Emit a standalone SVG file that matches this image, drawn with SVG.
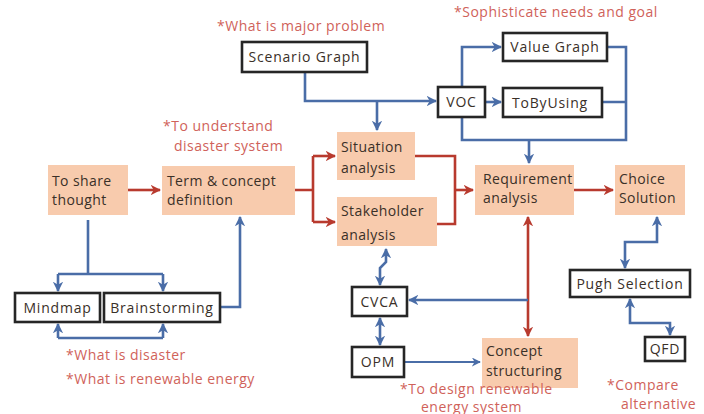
<svg xmlns="http://www.w3.org/2000/svg" width="704" height="414" viewBox="0 0 704 414">
  <defs>
    <style>
      .step { fill: #F8CBAD; }
      .tool { fill: #ffffff; stroke: #262626; stroke-width: 2.6; }
      .lbl { font-family: "Open Sans", Lato, sans-serif; font-size: 14px; letter-spacing: 0.4px; fill: #3a3028; }
      .mid { text-anchor: middle; letter-spacing: 0.8px; }
      .note { font-family: "Open Sans", Lato, sans-serif; font-size: 14px; letter-spacing: 0.5px; fill: #D0625A; }
      .red { fill: none; stroke: #B83A2E; stroke-width: 2.6; }
      .blue { fill: none; stroke: #4A6DA7; stroke-width: 2.6; }
      .thin { fill: none; stroke: #4A6DA7; stroke-width: 1.8; }
    </style>
    <marker id="ar" viewBox="0 0 10 10" refX="9" refY="5" markerWidth="4" markerHeight="4" orient="auto-start-reverse">
      <path d="M0,0 L10,5 L0,10 L3,5 z" fill="#B83A2E"/>
    </marker>
    <marker id="ab" viewBox="0 0 10 10" refX="9" refY="5" markerWidth="4" markerHeight="4" orient="auto-start-reverse">
      <path d="M0,0 L10,5 L0,10 L3,5 z" fill="#4A6DA7"/>
    </marker>
    <marker id="abt" viewBox="0 0 10 10" refX="9" refY="5" markerWidth="5" markerHeight="5" orient="auto-start-reverse">
      <path d="M0,0 L10,5 L0,10 L3,5 z" fill="#4A6DA7"/>
    </marker>
  </defs>

  <rect width="704" height="414" fill="#ffffff"/>

  <!-- connectors -->
  <g id="connectors">
    <!-- red process flow -->
    <path class="red" d="M128,190 H160" marker-end="url(#ar)"/>
    <path class="red" d="M295,190 H313 M313,156 V222" />
    <path class="red" d="M313,156 H335" marker-end="url(#ar)"/>
    <path class="red" d="M313,222 H335" marker-end="url(#ar)"/>
    <path class="red" d="M415,156 H455 V224 H437"/>
    <path class="red" d="M455,190 H473" marker-end="url(#ar)"/>
    <path class="red" d="M574,190 H613" marker-end="url(#ar)"/>
    <path class="red" d="M528,217 V336" marker-start="url(#ar)" marker-end="url(#ar)"/>

    <!-- scenario graph / VOC branch -->
    <path class="blue" d="M305,72 V101 H436" marker-end="url(#ab)"/>
    <path class="blue" d="M377,101 V130" marker-end="url(#ab)"/>
    <path class="blue" d="M462,87 V47 H501" marker-end="url(#ab)"/>
    <path class="blue" d="M485,102 H501" marker-end="url(#ab)"/>
    <path class="blue" d="M462,117 V140 H626 V47 H607 M602,102 H626"/>
    <path class="blue" d="M529,140 V163" marker-end="url(#ab)"/>

    <!-- sharing thought -->
    <path class="blue" d="M88,220 V274 M58,274 H163"/>
    <path class="blue" d="M58,274 V291" marker-end="url(#ab)"/>
    <path class="blue" d="M163,274 V291" marker-end="url(#ab)"/>
    <path class="blue" d="M58,338 H163"/>
    <path class="blue" d="M58,338 V324" marker-end="url(#ab)"/>
    <path class="blue" d="M163,338 V324" marker-end="url(#ab)"/>
    <path class="blue" d="M220,307 H240 V217" marker-end="url(#ab)"/>

    <!-- CVCA / OPM -->
    <path class="blue" d="M386,249 V262 L380,268 V285" marker-start="url(#ab)" marker-end="url(#ab)"/>
    <path class="blue" d="M380,318 V345" marker-start="url(#ab)" marker-end="url(#ab)"/>
    <path class="blue" d="M528,300 H409" marker-end="url(#ab)"/>
    <path class="thin" d="M404,362 H480" marker-end="url(#abt)"/>

    <!-- Pugh / QFD -->
    <path class="blue" d="M657,217 V242 H625 V268" marker-start="url(#ab)" marker-end="url(#ab)"/>
    <path class="blue" d="M630,299 V323 H670 V335" marker-start="url(#ab)" marker-end="url(#ab)"/>
  </g>

  <!-- process steps -->
  <g id="share">
    <rect class="step" x="48" y="165" width="80" height="50"/>
    <text class="lbl" x="52" y="186">To share</text>
    <text class="lbl" x="52" y="205">thought</text>
  </g>
  <g id="term">
    <rect class="step" x="162" y="166" width="133" height="49"/>
    <text class="lbl" x="167" y="186">Term &amp; concept</text>
    <text class="lbl" x="167" y="205">definition</text>
  </g>
  <g id="situation">
    <rect class="step" x="337" y="132" width="78" height="48"/>
    <text class="lbl" x="341" y="152">Situation</text>
    <text class="lbl" x="341" y="173">analysis</text>
  </g>
  <g id="stakeholder">
    <rect class="step" x="337" y="197" width="100" height="49"/>
    <text class="lbl" x="341" y="216">Stakeholder</text>
    <text class="lbl" x="341" y="240">analysis</text>
  </g>
  <g id="requirement">
    <rect class="step" x="475" y="165" width="99" height="50"/>
    <text class="lbl" x="483" y="184">Requirement</text>
    <text class="lbl" x="483" y="203">analysis</text>
  </g>
  <g id="choice">
    <rect class="step" x="615" y="165" width="70" height="50"/>
    <text class="lbl" x="619" y="184">Choice</text>
    <text class="lbl" x="619" y="203">Solution</text>
  </g>
  <g id="concept">
    <rect class="step" x="482" y="338" width="96" height="50"/>
    <text class="lbl" x="486" y="356">Concept</text>
    <text class="lbl" x="486" y="376">structuring</text>
  </g>

  <!-- tools -->
  <g id="scenario">
    <rect class="tool" x="242" y="42" width="125" height="30"/>
    <text class="lbl mid" x="304.5" y="62">Scenario Graph</text>
  </g>
  <g id="voc">
    <rect class="tool" x="438" y="87" width="47" height="30"/>
    <text class="lbl mid" x="461.5" y="107">VOC</text>
  </g>
  <g id="valuegraph">
    <rect class="tool" x="503" y="33" width="104" height="28"/>
    <text class="lbl mid" x="555" y="52">Value Graph</text>
  </g>
  <g id="tobyusing">
    <rect class="tool" x="503" y="88" width="99" height="29"/>
    <text class="lbl mid" x="550" y="107.5">ToByUsing</text>
  </g>
  <g id="mindmap">
    <rect class="tool" x="15" y="293" width="85" height="29"/>
    <text class="lbl mid" x="57.5" y="312.5">Mindmap</text>
  </g>
  <g id="brainstorming">
    <rect class="tool" x="104" y="293" width="116" height="29"/>
    <text class="lbl mid" x="162" y="312.5">Brainstorming</text>
  </g>
  <g id="cvca">
    <rect class="tool" x="352" y="287" width="55" height="29"/>
    <text class="lbl mid" x="379.5" y="306.5">CVCA</text>
  </g>
  <g id="opm">
    <rect class="tool" x="352" y="347" width="52" height="30"/>
    <text class="lbl mid" x="378" y="367">OPM</text>
  </g>
  <g id="pugh">
    <rect class="tool" x="570" y="270" width="120" height="27"/>
    <text class="lbl mid" x="630" y="288.5">Pugh Selection</text>
  </g>
  <g id="qfd">
    <rect class="tool" x="645" y="337" width="40" height="24"/>
    <text class="lbl mid" x="665" y="354">QFD</text>
  </g>

  <!-- notes -->
  <g id="notes">
    <text class="note" x="217" y="31">*What is major problem</text>
    <text class="note" x="454" y="17">*Sophisticate needs and goal</text>
    <text class="note" x="163" y="131">*To understand</text>
    <text class="note" x="174" y="151">disaster system</text>
    <text class="note" x="66" y="360">*What is disaster</text>
    <text class="note" x="66" y="384">*What is renewable energy</text>
    <text class="note" x="400" y="394">*To design renewable</text>
    <text class="note" x="421" y="412">energy system</text>
    <text class="note" x="607" y="390">*Compare</text>
    <text class="note" x="621" y="409">alternative</text>
  </g>
</svg>
